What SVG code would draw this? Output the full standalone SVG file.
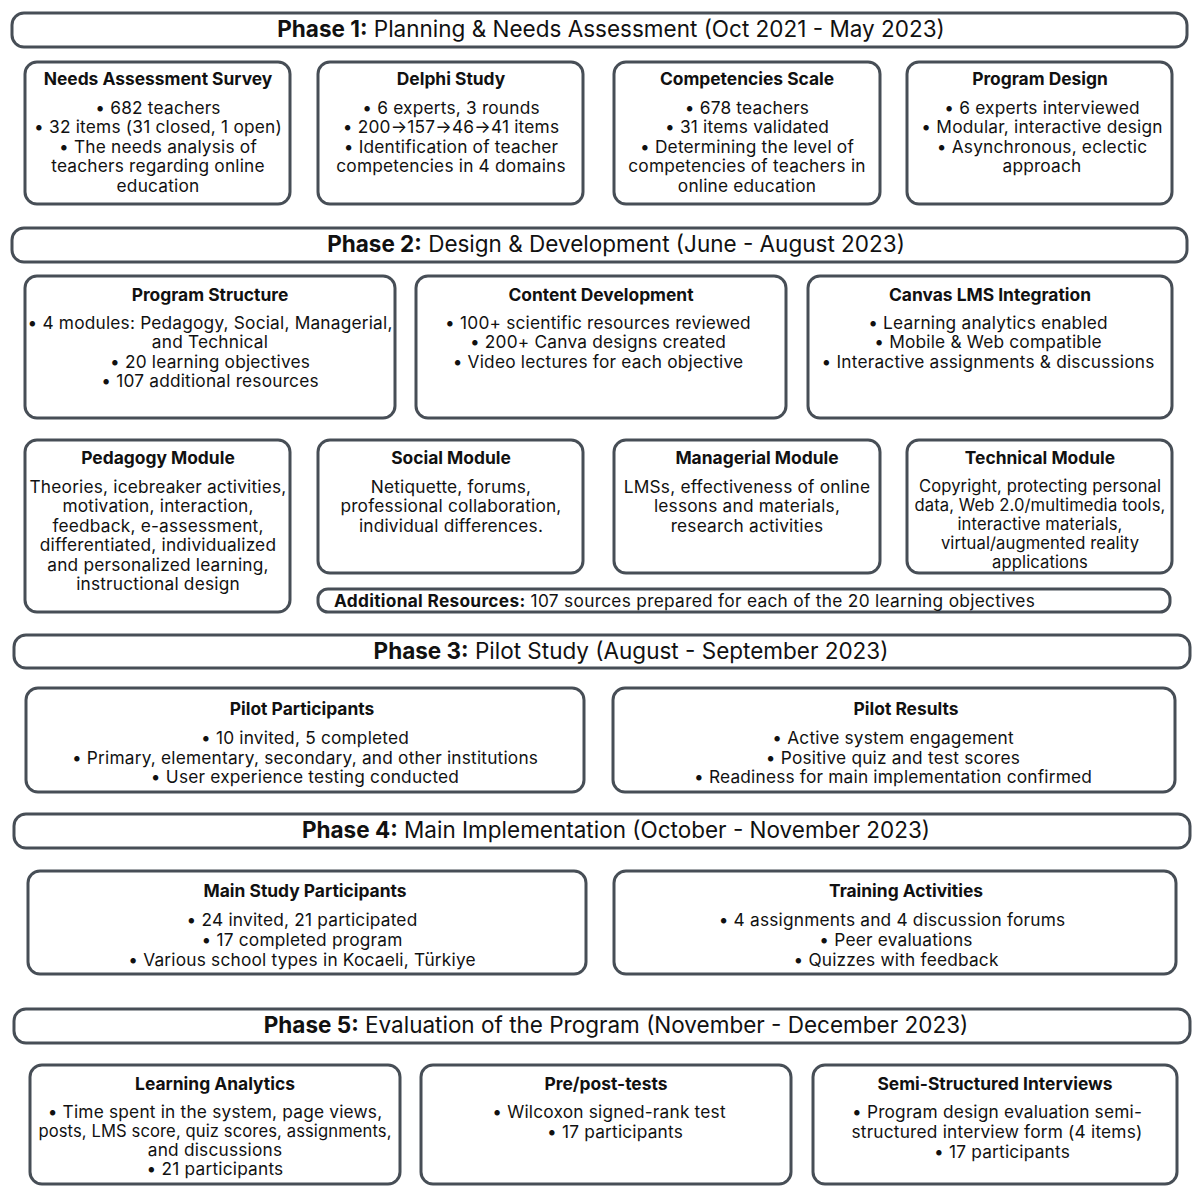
<svg xmlns="http://www.w3.org/2000/svg" width="1200" height="1200" viewBox="0 0 1200 1200">
<style>
.bar{fill:#fff;stroke:#474e56;stroke-width:3}
.box{fill:#fff;stroke:#474e56;stroke-width:3}
text{font-family:Inter,"Noto Sans",sans-serif;fill:#111;text-anchor:middle}
.ph{font-size:22.5px}
.ph .b{font-weight:700}
.h{font-size:17.4px;font-weight:700}
.t{font-size:17.3px;letter-spacing:0.2px}
.s{font-size:16.6px;letter-spacing:0.1px}
.ar{font-size:17.3px;letter-spacing:0.3px;text-anchor:start}
</style>
<rect width="1200" height="1200" fill="#fff"/>
<g id="connectors"></g>

<!-- Phase 1 -->
<g id="phase1">
<rect class="bar" x="12" y="13" width="1175" height="34" rx="12"/>
<text class="ph" x="611" y="37"><tspan class="b">Phase 1:</tspan> Planning &amp; Needs Assessment (Oct 2021 - May 2023)</text>
</g>
<g id="needs-survey">
<rect class="box" x="25" y="62" width="265" height="142" rx="12"/>
<text class="h" x="158" y="85">Needs Assessment Survey</text>
<text class="t" x="158" y="114">• 682 teachers</text>
<text class="t" x="158" y="133">• 32 items (31 closed, 1 open)</text>
<text class="t" x="158" y="153">• The needs analysis of</text>
<text class="t" x="158" y="172">teachers regarding online</text>
<text class="t" x="158" y="192">education</text>
</g>
<g id="delphi">
<rect class="box" x="318" y="62" width="265" height="142" rx="12"/>
<text class="h" x="451" y="85">Delphi Study</text>
<text class="t" x="451" y="114">• 6 experts, 3 rounds</text>
<text class="t" x="451" y="133">• 200→157→46→41 items</text>
<text class="t" x="451" y="153">• Identification of teacher</text>
<text class="t" x="451" y="172">competencies in 4 domains</text>
</g>
<g id="competencies">
<rect class="box" x="614" y="62" width="266" height="142" rx="12"/>
<text class="h" x="747" y="85">Competencies Scale</text>
<text class="t" x="747" y="114">• 678 teachers</text>
<text class="t" x="747" y="133">• 31 items validated</text>
<text class="t" x="747" y="153">• Determining the level of</text>
<text class="t" x="747" y="172">competencies of teachers in</text>
<text class="t" x="747" y="192">online education</text>
</g>
<g id="program-design">
<rect class="box" x="907" y="62" width="265" height="142" rx="12"/>
<text class="h" x="1040" y="85">Program Design</text>
<text class="t" x="1042" y="114">• 6 experts interviewed</text>
<text class="t" x="1042" y="133">• Modular, interactive design</text>
<text class="t" x="1042" y="153">• Asynchronous, eclectic</text>
<text class="t" x="1042" y="172">approach</text>
</g>

<!-- Phase 2 -->
<g id="phase2">
<rect class="bar" x="12" y="228" width="1175" height="34" rx="12"/>
<text class="ph" x="616" y="252"><tspan class="b">Phase 2:</tspan> Design &amp; Development (June - August 2023)</text>
</g>
<g id="program-structure">
<rect class="box" x="25" y="276" width="370" height="142" rx="12"/>
<text class="h" x="210" y="301">Program Structure</text>
<text class="t" x="210" y="329">• 4 modules: Pedagogy, Social, Managerial,</text>
<text class="t" x="210" y="348">and Technical</text>
<text class="t" x="210" y="368">• 20 learning objectives</text>
<text class="t" x="210" y="387">• 107 additional resources</text>
</g>
<g id="content-dev">
<rect class="box" x="416" y="276" width="370" height="142" rx="12"/>
<text class="h" x="601" y="301">Content Development</text>
<text class="t" x="598" y="329">• 100+ scientific resources reviewed</text>
<text class="t" x="598" y="348">• 200+ Canva designs created</text>
<text class="t" x="598" y="368">• Video lectures for each objective</text>
</g>
<g id="canvas-lms">
<rect class="box" x="808" y="276" width="364" height="142" rx="12"/>
<text class="h" x="990" y="301">Canvas LMS Integration</text>
<text class="t" x="988" y="329">• Learning analytics enabled</text>
<text class="t" x="988" y="348">• Mobile &amp; Web compatible</text>
<text class="t" x="988" y="368">• Interactive assignments &amp; discussions</text>
</g>
<g id="pedagogy">
<rect class="box" x="25" y="440" width="265" height="172" rx="12"/>
<text class="h" x="158" y="464">Pedagogy Module</text>
<text class="t" x="158" y="493">Theories, icebreaker activities,</text>
<text class="t" x="158" y="512">motivation, interaction,</text>
<text class="t" x="158" y="532">feedback, e-assessment,</text>
<text class="t" x="158" y="551">differentiated, individualized</text>
<text class="t" x="158" y="571">and personalized learning,</text>
<text class="t" x="158" y="590">instructional design</text>
</g>
<g id="social">
<rect class="box" x="318" y="440" width="265" height="133" rx="12"/>
<text class="h" x="451" y="464">Social Module</text>
<text class="t" x="451" y="493">Netiquette, forums,</text>
<text class="t" x="451" y="512">professional collaboration,</text>
<text class="t" x="451" y="532">individual differences.</text>
</g>
<g id="managerial">
<rect class="box" x="614" y="440" width="266" height="133" rx="12"/>
<text class="h" x="757" y="464">Managerial Module</text>
<text class="t" x="747" y="493">LMSs, effectiveness of online</text>
<text class="t" x="747" y="512">lessons and materials,</text>
<text class="t" x="747" y="532">research activities</text>
</g>
<g id="technical">
<rect class="box" x="907" y="440" width="265" height="133" rx="12"/>
<text class="h" x="1040" y="464">Technical Module</text>
<text class="s" x="1040" y="492">Copyright, protecting personal</text>
<text class="s" x="1040" y="511">data, Web 2.0/multimedia tools,</text>
<text class="s" x="1040" y="530">interactive materials,</text>
<text class="s" x="1040" y="549">virtual/augmented reality</text>
<text class="s" x="1040" y="568">applications</text>
</g>
<g id="additional-resources">
<rect class="bar" x="318" y="589" width="852" height="23" rx="10"/>
<text class="ar" x="334" y="607"><tspan font-weight="700">Additional Resources:</tspan>  107 sources prepared for each of the 20 learning objectives</text>
</g>

<!-- Phase 3 -->
<g id="phase3">
<rect class="bar" x="14" y="635" width="1176" height="33" rx="12"/>
<text class="ph" x="631" y="659"><tspan class="b">Phase 3:</tspan> Pilot Study (August - September 2023)</text>
</g>
<g id="pilot-participants">
<rect class="box" x="26" y="688" width="558" height="104" rx="12"/>
<text class="h" x="302" y="715">Pilot Participants</text>
<text class="t" x="305" y="744">• 10 invited, 5 completed</text>
<text class="t" x="305" y="764">• Primary, elementary,  secondary, and other institutions</text>
<text class="t" x="305" y="783">• User experience testing conducted</text>
</g>
<g id="pilot-results">
<rect class="box" x="613" y="688" width="562" height="104" rx="12"/>
<text class="h" x="906" y="715">Pilot Results</text>
<text class="t" x="893" y="744">• Active system engagement</text>
<text class="t" x="893" y="764">• Positive quiz and test scores</text>
<text class="t" x="893" y="783">• Readiness for main implementation confirmed</text>
</g>

<!-- Phase 4 -->
<g id="phase4">
<rect class="bar" x="14" y="814" width="1176" height="34" rx="12"/>
<text class="ph" x="616" y="838"><tspan class="b">Phase 4:</tspan> Main Implementation (October - November 2023)</text>
</g>
<g id="main-participants">
<rect class="box" x="28" y="871" width="558" height="103" rx="12"/>
<text class="h" x="305" y="897">Main Study Participants</text>
<text class="t" x="302" y="926">• 24 invited, 21 participated</text>
<text class="t" x="302" y="946">• 17 completed program</text>
<text class="t" x="302" y="966">• Various school types in Kocaeli, Türkiye</text>
</g>
<g id="training">
<rect class="box" x="614" y="871" width="562" height="103" rx="12"/>
<text class="h" x="906" y="897">Training Activities</text>
<text class="t" x="892" y="926">• 4 assignments  and 4 discussion forums</text>
<text class="t" x="896" y="946">• Peer evaluations</text>
<text class="t" x="896" y="966">• Quizzes with feedback</text>
</g>

<!-- Phase 5 -->
<g id="phase5">
<rect class="bar" x="14" y="1009" width="1176" height="34" rx="12"/>
<text class="ph" x="616" y="1033"><tspan class="b">Phase 5:</tspan> Evaluation of the Program (November - December 2023)</text>
</g>
<g id="learning-analytics">
<rect class="box" x="30" y="1065" width="370" height="119" rx="12"/>
<text class="h" x="215" y="1090">Learning Analytics</text>
<text class="t" x="215" y="1118">• Time spent in the system, page views,</text>
<text class="s" x="215" y="1137">posts, LMS score, quiz scores, assignments,</text>
<text class="t" x="215" y="1156">and discussions</text>
<text class="t" x="215" y="1175">• 21 participants</text>
</g>
<g id="pre-post">
<rect class="box" x="421" y="1065" width="370" height="119" rx="12"/>
<text class="h" x="606" y="1090">Pre/post-tests</text>
<text class="t" x="609" y="1118">• Wilcoxon signed-rank test</text>
<text class="t" x="615" y="1138">• 17 participants</text>
</g>
<g id="interviews">
<rect class="box" x="813" y="1065" width="364" height="119" rx="12"/>
<text class="h" x="995" y="1090">Semi-Structured Interviews</text>
<text class="t" x="997" y="1118">• Program design evaluation semi-</text>
<text class="t" x="997" y="1138">structured interview form (4 items)</text>
<text class="t" x="1002" y="1158">• 17 participants</text>
</g>
</svg>
